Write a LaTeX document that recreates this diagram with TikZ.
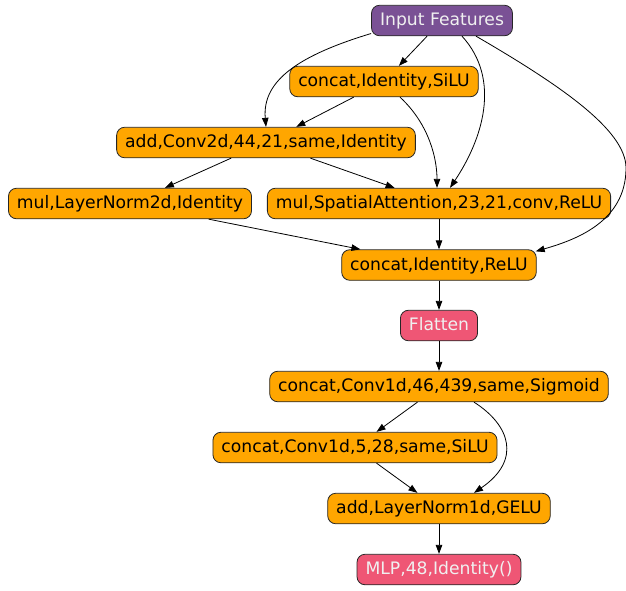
\documentclass[tikz,border=0pt]{standalone}
\usepackage{fontspec}
\setmainfont{DejaVu Sans}
\usetikzlibrary{arrows.meta}
\definecolor{cpurple}{HTML}{7A5195}
\definecolor{cpink}{HTML}{EF5675}
\definecolor{corange}{HTML}{FFA600}
\definecolor{clight}{HTML}{F0F0F0}
\tikzset{
  box/.style={draw=black!85, line width=0.8pt, rounded corners=8pt, minimum height=30.5pt,
    inner xsep=8.5pt, inner ysep=0pt, text height=12.5pt, text depth=2pt,
    font=\fontsize{17.2}{20}\selectfont},
  opbox/.style={box, fill=corange, text=black},
  inbox/.style={box, fill=cpurple, text=clight},
  outbox/.style={box, fill=cpink, text=clight},
  edge/.style={line width=0.8pt, -{Triangle[length=9pt,width=6.5pt]}}
}
\begin{document}
\begin{tikzpicture}[x=1pt,y=-1pt]
\useasboundingbox (0,0) rectangle (626,590);
\node[inbox]  (in)   at (442,20.5)  {Input Features};
\node[opbox]  (silu) at (384,81.5)  {concat,Identity,SiLU};
\node[opbox]  (add)  at (266,142.5) {add,Conv2d,44,21,same,Identity};
\node[opbox]  (ln2)  at (130,203.5) {mul,LayerNorm2d,Identity};
\node[opbox]  (sa)   at (439,203.5) {mul,SpatialAttention,23,21,conv,ReLU};
\node[opbox]  (cr)   at (439,265)   {concat,Identity,ReLU};
\node[outbox] (fl)   at (439,325.5) {Flatten};
\node[opbox]  (c46)  at (439,386.5) {concat,Conv1d,46,439,same,Sigmoid};
\node[opbox]  (c5)   at (355,447.5) {concat,Conv1d,5,28,same,SiLU};
\node[opbox]  (ln1)  at (439,508.5) {add,LayerNorm1d,GELU};
\node[outbox] (mlp)  at (439,569.5) {MLP,48,Identity()};

\draw[edge] (in) -- (silu);
\draw[edge] ([yshift=-13pt]in.west) .. controls (300,55) and (262,80) .. (add.north);
\draw[edge] ([xshift=20pt]in.south) .. controls (502,80) and (482,140) .. ([xshift=11pt]sa.north);
\draw[edge] ([xshift=34pt]in.south) .. controls (560,85) and (626,130) .. (626,168)
  .. controls (626,222) and (575,240) .. ([xshift=-1pt,yshift=-2pt]cr.north east);
\draw[edge] (silu) -- (add);
\draw[edge] ([xshift=16pt]silu.south) .. controls (430,125) and (437,160) .. ([xshift=-2pt]sa.north);
\draw[edge] (add) -- (ln2);
\draw[edge] (add) -- (sa);
\draw[edge] (ln2) -- (cr);
\draw[edge] (sa) -- (cr);
\draw[edge] (cr) -- (fl);
\draw[edge] (fl) -- (c46);
\draw[edge] (c46) -- (c5);
\draw[edge] ([xshift=35pt]c46.south) .. controls (510,425) and (522,460) .. ([xshift=35pt]ln1.north);
\draw[edge] (c5) -- (ln1);
\draw[edge] (ln1) -- (mlp);
\end{tikzpicture}
\end{document}
